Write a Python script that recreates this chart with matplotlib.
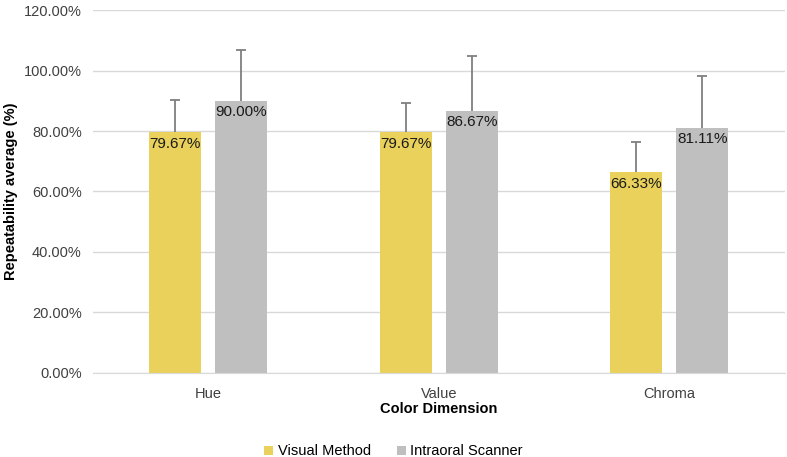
import numpy as np
import matplotlib.pyplot as plt
from matplotlib.ticker import FuncFormatter

plt.rcParams['font.family'] = ['Liberation Sans', 'DejaVu Sans']

categories = ['Hue', 'Value', 'Chroma']
visual = [79.67, 79.67, 66.33]
scanner = [90.00, 86.67, 81.11]
visual_err = [10.5, 9.6, 10.0]
scanner_err = [16.8, 18.1, 17.2]

yellow = '#E9D15B'
grey = '#BFBFBF'
ecol = '#7F7F7F'

fig = plt.figure(figsize=(7.87, 4.57), dpi=100)
ax = fig.add_axes([0.118, 0.184, 0.879, 0.794])

x = np.arange(len(categories))
w = 0.225
off = 0.143

ax.bar(x - off, visual, w, color=yellow, label='Visual Method', zorder=2)
ax.bar(x + off, scanner, w, color=grey, label='Intraoral Scanner', zorder=2)

# only the upper half of each error bar, like the original
for xs, vals, errs in [(x - off, visual, visual_err), (x + off, scanner, scanner_err)]:
    tops = np.array(vals) + np.array(errs)
    ax.vlines(xs, vals, tops, color=ecol, linewidth=1.3, zorder=3)
    ax.scatter(xs, tops, marker='_', s=60, color=ecol, linewidths=1.3, zorder=3)

for i in range(len(categories)):
    ax.text(x[i] - off, visual[i] - 1.5, f'{visual[i]:.2f}%', ha='center', va='top', fontsize=11, color='#1a1a1a', zorder=4)
    ax.text(x[i] + off, scanner[i] - 1.5, f'{scanner[i]:.2f}%', ha='center', va='top', fontsize=11, color='#1a1a1a', zorder=4)

ax.set_ylim(0, 120)
ax.set_xlim(-0.5, 2.5)
ax.set_yticks(np.arange(0, 121, 20))
ax.yaxis.set_major_formatter(FuncFormatter(lambda v, p: f'{v:.2f}%'))
ax.set_xticks(x)
ax.set_xticklabels(categories)
ax.grid(axis='y', color='#D9D9D9', linewidth=1, zorder=0)
for s in ['top', 'right', 'left']:
    ax.spines[s].set_visible(False)
ax.spines['bottom'].set_color('#D9D9D9')
ax.tick_params(axis='both', length=0, labelsize=10.5, colors='#404040')
ax.tick_params(axis='y', pad=8)
ax.tick_params(axis='x', pad=10)

ax.set_ylabel('Repeatability average (%)', fontsize=10.5, fontweight='bold', labelpad=4)
ax.set_xlabel('Color Dimension', fontsize=10.5, fontweight='bold', labelpad=1)

fig.legend(loc='lower center', bbox_to_anchor=(0.5, -0.032), ncol=2, frameon=False, fontsize=10.5,
           handlelength=0.6, handleheight=0.6, handletextpad=0.3, columnspacing=1.8)

fig.savefig('out.png', dpi=100)
